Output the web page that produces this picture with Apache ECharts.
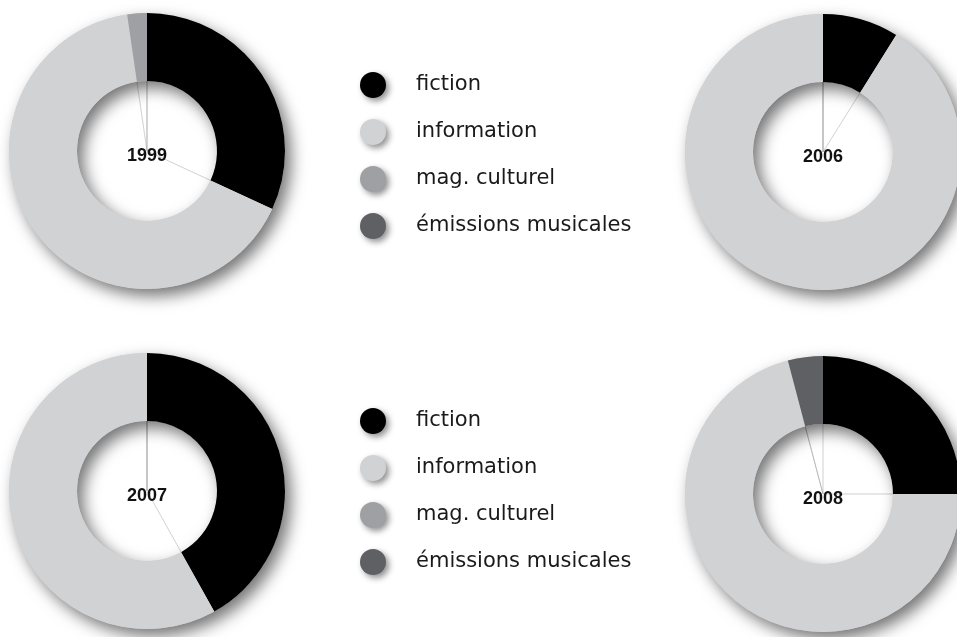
<!DOCTYPE html>
<html>
<head>
<meta charset="utf-8">
<script src="https://cdn.jsdelivr.net/npm/echarts@6/dist/echarts.min.js"></script>
<style>html,body{margin:0;padding:0;background:#fff}#c{width:957px;height:637px}</style>
</head>
<body>
<div id="c"></div>
<script>
const categories = ['fiction', 'information', 'mag. culturel', 'émissions musicales'];
const years = ['1999', '2006', '2007', '2008'];
const fiction = [31.9, 8.9, 41.9, 25.0];
const information = [65.8, 91.1, 58.1, 70.9];
const magCulturel = [2.3, 0, 0, 0];
const emissions = [0, 0, 0, 4.1];

const colors = ['#000000', '#d1d2d4', '#9fa0a3', '#5f6063'];
const centers = [[147, 151], [823, 152], [147, 491], [823, 494]];
const rIn = 70, rOut = 138;

const chart = echarts.init(document.getElementById('c'), null, {renderer: 'canvas'});
const series = [];
const graphics = [];
const common = {type: 'pie', silent: true, startAngle: 90, clockwise: true, avoidLabelOverlap: false,
  label: {show: false}, labelLine: {show: false}, emphasis: {disabled: true}, animation: false};
years.forEach((y, i) => {
  const vals = [fiction[i], information[i], magCulturel[i], emissions[i]];
  // faint radial lines in the hole (drawn first, ring covers the outer arc)
  series.push(Object.assign({}, common, {
    center: centers[i], radius: [0, rIn + 1], legendHoverLink: false,
    data: categories.map((c, k) => ({name: c, value: vals[k],
      itemStyle: {color: 'rgba(255,255,255,0)', borderColor: 'rgba(150,150,150,0.4)', borderWidth: 0.6}}))
  }));
  // shadow ring underneath
  series.push(Object.assign({}, common, {
    center: centers[i], radius: [rIn, rOut],
    data: [{name: '_ring' + i, value: 1, itemStyle: {color: '#d1d2d4', shadowBlur: 16, shadowOffsetX: 6, shadowOffsetY: 7, shadowColor: 'rgba(0,0,0,0.55)'}}]
  }));
  series.push(Object.assign({}, common, {
    center: centers[i], radius: [rIn, rOut],
    itemStyle: {borderWidth: 0},
    data: categories.map((c, k) => ({name: c, value: vals[k], itemStyle: {color: colors[k]}}))
  }));
  graphics.push({
    type: 'text', x: centers[i][0], y: centers[i][1] + 5, z: 100,
    style: {text: y, font: 'bold 18px "Liberation Sans", Arial, sans-serif', fill: '#111', align: 'center', verticalAlign: 'middle'}
  });
});

const legendData = categories.map((c, k) => ({name: c, itemStyle: {color: colors[k]}}));
const legendBase = {
  orient: 'vertical', left: 355, icon: 'circle', itemWidth: 26, itemHeight: 26, itemGap: 21,
  selectedMode: false, data: legendData,
  itemStyle: {shadowBlur: 6, shadowOffsetX: 3, shadowOffsetY: 3, shadowColor: 'rgba(0,0,0,0.45)', borderWidth: 0},
  textStyle: {fontFamily: '"DejaVu Sans", sans-serif', fontSize: 21, color: '#1a1a1a', padding: [0, 0, 0, 25]}
};

chart.setOption({
  animation: false,
  color: colors,
  legend: [Object.assign({}, legendBase, {top: 67}), Object.assign({}, legendBase, {top: 403})],
  series: series,
  graphic: graphics
});
</script>
</body>
</html>
